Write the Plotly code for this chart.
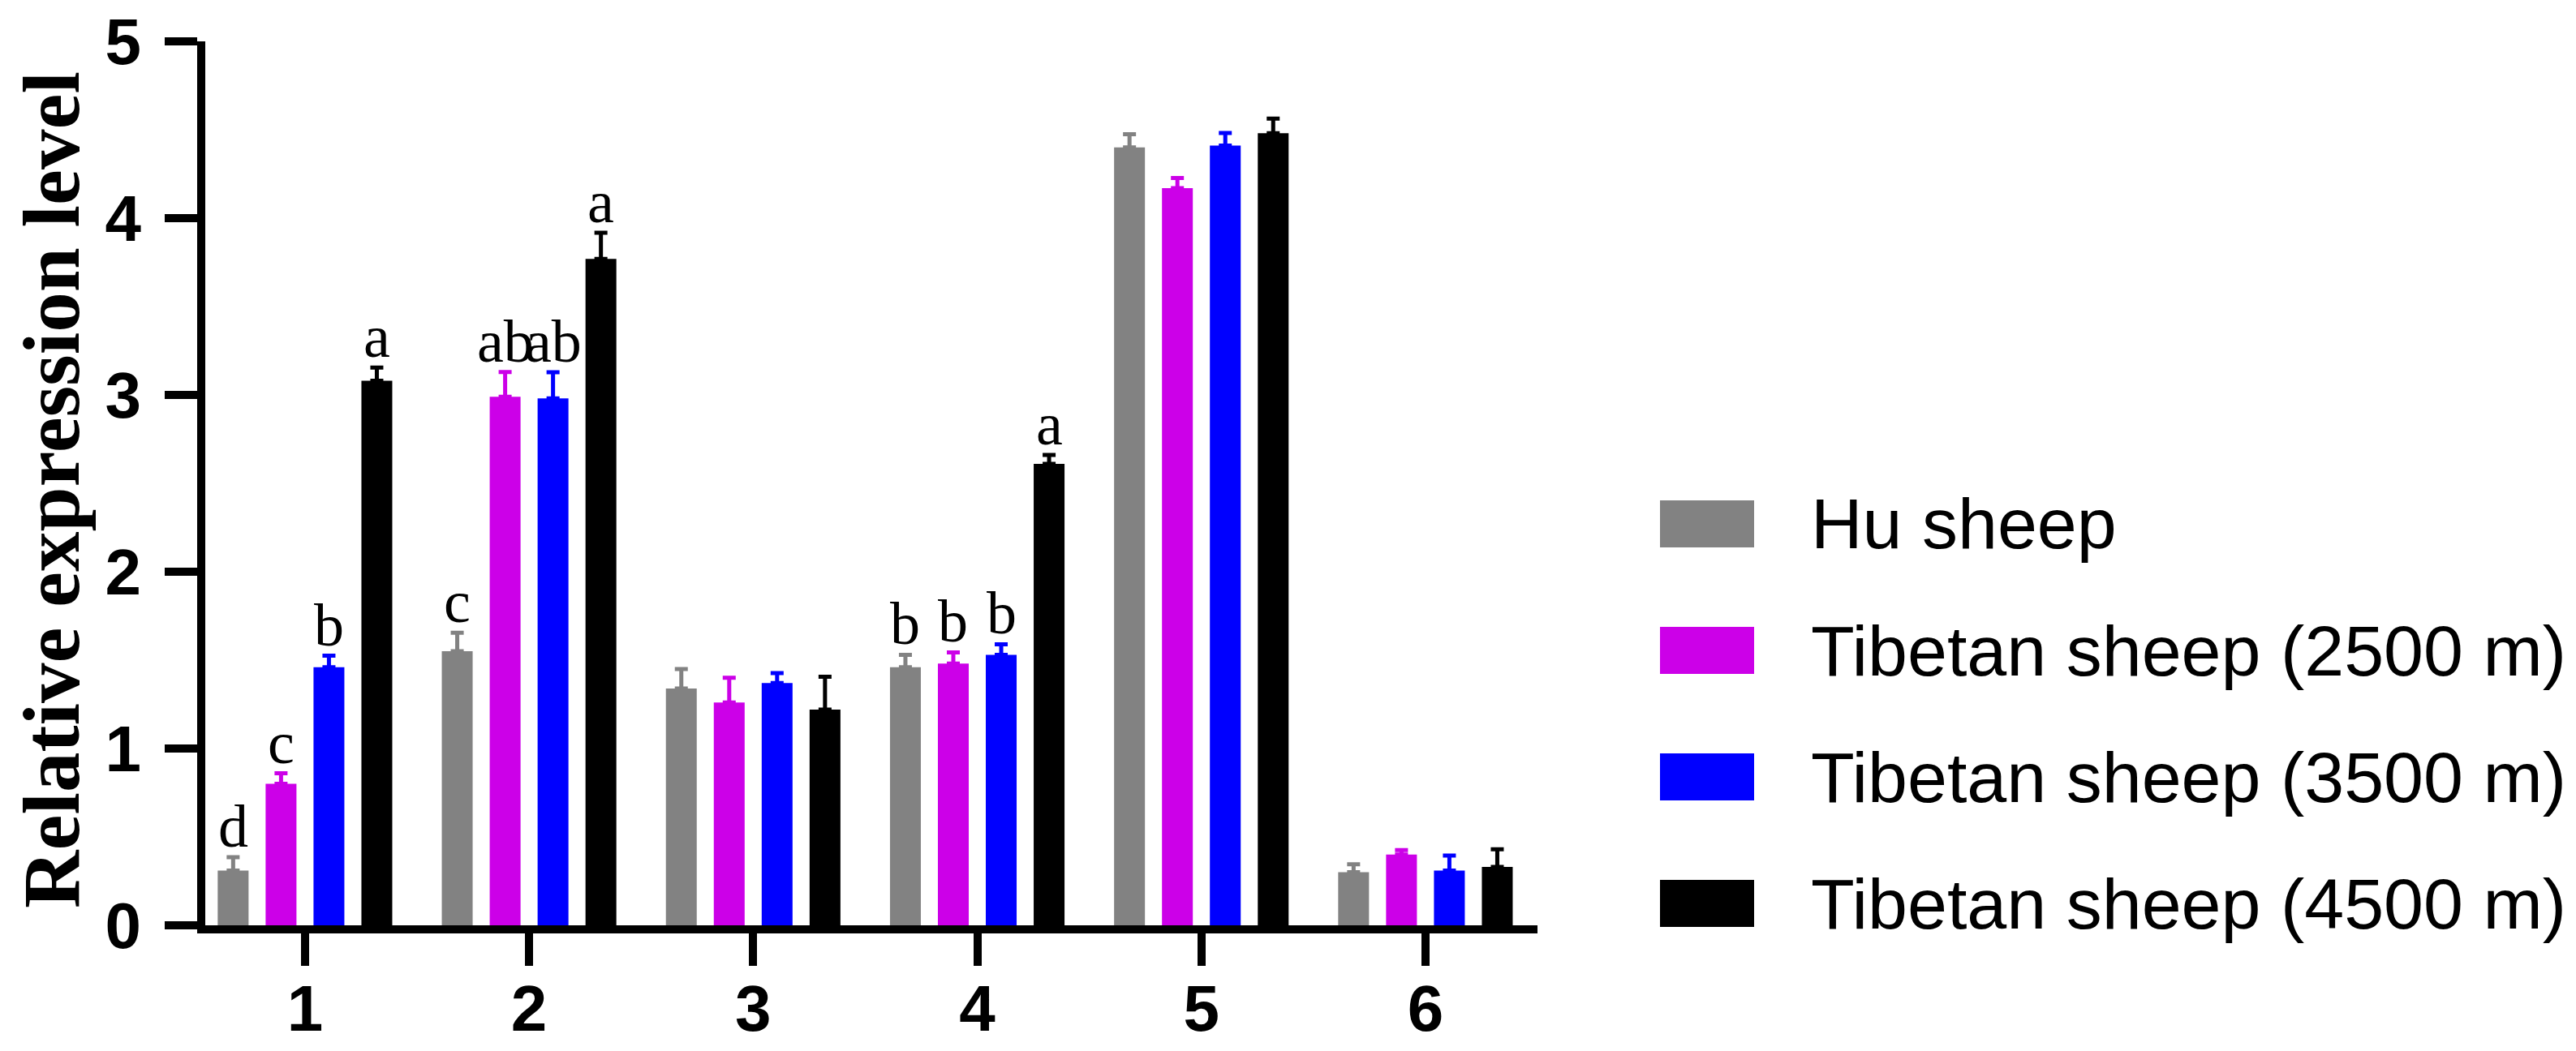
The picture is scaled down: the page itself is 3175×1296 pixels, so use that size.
import plotly.graph_objects as go

# ---------------- data ----------------
categories = ["1", "2", "3", "4", "5", "6"]
series_names = ["Hu sheep", "Tibetan sheep (2500 m)", "Tibetan sheep (3500 m)", "Tibetan sheep (4500 m)"]
hu_sheep = [0.31, 1.55, 1.34, 1.46, 4.40, 0.30]
tibetan_2500 = [0.80, 2.99, 1.26, 1.48, 4.17, 0.40]
tibetan_3500 = [1.46, 2.98, 1.37, 1.53, 4.41, 0.31]
tibetan_4500 = [3.08, 3.77, 1.22, 2.61, 4.48, 0.33]
hu_sheep_err = [0.075, 0.105, 0.11, 0.07, 0.075, 0.045]
tibetan_2500_err = [0.06, 0.14, 0.14, 0.064, 0.057, 0.026]
tibetan_3500_err = [0.065, 0.148, 0.057, 0.06, 0.072, 0.085]
tibetan_4500_err = [0.075, 0.147, 0.186, 0.05, 0.083, 0.10]
hu_sheep_letters = ["d", "c", "", "b", "", ""]
tibetan_2500_letters = ["c", "ab", "", "b", "", ""]
tibetan_3500_letters = ["b", "ab", "", "b", "", ""]
tibetan_4500_letters = ["a", "a", "", "a", "", ""]
y_ticks = [0, 1, 2, 3, 4, 5]
y_title = "Relative expression level"

values = [hu_sheep, tibetan_2500, tibetan_3500, tibetan_4500]
errors = [hu_sheep_err, tibetan_2500_err, tibetan_3500_err, tibetan_4500_err]
letters = [hu_sheep_letters, tibetan_2500_letters, tibetan_3500_letters, tibetan_4500_letters]
colors = ["#828282", "#CC00E8", "#0000FF", "#000000"]

# ---------------- layout constants (pixels) ----------------
W, H = 3175, 1296
ML, MR, MT, MB = 245, 1288, 43, 163
PW = W - ML - MR
PH = H - MT - MB
BARGAP = 0.145
BARGROUPGAP = 0.356
slot = (1 - BARGAP) / len(values)

def px_x(p):
    return (p - ML) / PW

def px_y(p):
    return (H - MB - p) / PH

xs = list(range(len(categories)))

fig = go.Figure()
for name, vals, errs, col in zip(series_names, values, errors, colors):
    fig.add_trace(go.Bar(
        x=xs, y=vals, name=name,
        marker=dict(color=col, line=dict(width=0)),
        error_y=dict(type="data", symmetric=False, array=errs,
                     arrayminus=[0] * len(errs), color=col,
                     thickness=5, width=8),
    ))

annotations = []
# significance letters
for j, (vals, errs, labs) in enumerate(zip(values, errors, letters)):
    for i, lab in enumerate(labs):
        if not lab:
            continue
        annotations.append(dict(
            x=xs[i] + (j - (len(values) - 1) / 2) * slot,
            y=vals[i] + errs[i], xref="x", yref="y",
            text=lab, showarrow=False, xanchor="center", yanchor="bottom",
            yshift=-5,
            font=dict(family="Liberation Serif", size=74, color="black"),
        ))

# y-axis title
annotations.append(dict(
    x=px_x(55), y=px_y(596), xref="paper", yref="paper",
    text=y_title, textangle=-90, showarrow=False,
    xanchor="center", yanchor="middle",
    font=dict(family="Liberation Serif", size=99, color="black", weight="bold"),
))

# custom legend
shapes = []
sw_x0, sw_x1 = 2038, 2154
row0, row_step = 638, 156
sw_h = 58
for k, (name, col) in enumerate(zip(series_names, colors)):
    cy = row0 + k * row_step
    shapes.append(dict(type="rect", xref="paper", yref="paper",
                       x0=px_x(sw_x0), x1=px_x(sw_x1),
                       y0=px_y(cy + sw_h / 2), y1=px_y(cy - sw_h / 2),
                       fillcolor=col, line=dict(width=0)))
    annotations.append(dict(
        x=px_x(2222), y=px_y(cy), xref="paper", yref="paper",
        text=name, showarrow=False, xanchor="left", yanchor="middle",
        font=dict(family="Liberation Sans", size=88, color="black"),
    ))

axis_common = dict(
    showline=True, linewidth=10, linecolor="black",
    ticks="outside", ticklen=40, tickwidth=10, tickcolor="black",
    showgrid=False, zeroline=False, ticklabeloverflow="allow",
    tickfont=dict(family="Liberation Sans", size=80, color="black", weight="bold"),
)

fig.update_layout(
    width=W, height=H,
    margin=dict(l=ML, r=MR, t=MT, b=MB, autoexpand=False),
    plot_bgcolor="white", paper_bgcolor="white",
    barmode="group", bargap=BARGAP, bargroupgap=BARGROUPGAP,
    showlegend=False,
    xaxis=dict(range=[-0.445, 5.5], tickvals=xs, ticktext=categories,
               ticklabelstandoff=-16, **axis_common),
    yaxis=dict(range=[0, 5], tickvals=y_ticks, ticktext=[str(t) for t in y_ticks],
               ticklabelstandoff=13, **axis_common),
    annotations=annotations, shapes=shapes,
)

fig.write_html("out.html")
